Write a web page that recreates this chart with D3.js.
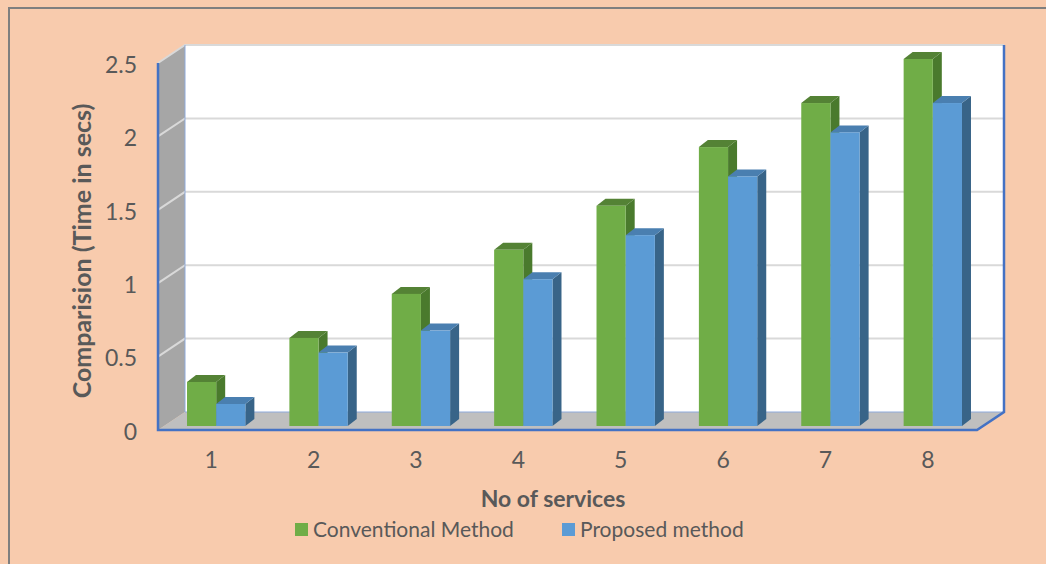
<!DOCTYPE html>
<html>
<head>
<meta charset="utf-8">
<script src="https://cdn.jsdelivr.net/npm/d3@7"></script>
<style>
  body { margin: 0; background: #fff; }
  svg text { font-family: Lato, "Open Sans", sans-serif; fill: #595959; }
</style>
</head>
<body>
<div id="chart"></div>
<script>
// data
const services = ['1', '2', '3', '4', '5', '6', '7', '8'];
const seriesNames = ['Conventional Method', 'Proposed method'];
const conventional = [0.3, 0.6, 0.9, 1.2, 1.5, 1.9, 2.2, 2.5];
const proposed = [0.15, 0.5, 0.65, 1.0, 1.3, 1.7, 2.0, 2.2];
const yTicks = [0, 0.5, 1, 1.5, 2, 2.5];

const width = 1046, height = 564;
const colors = {
  'Conventional Method': { front: '#70ad47', top: '#548235', side: '#4a7a2d' },
  'Proposed method': { front: '#5b9bd5', top: '#4a7fb0', side: '#386488' }
};

// front plane of the 3d box
const plot = { left: 158, right: 977, top: 63, bottom: 430 };
const depth = { dx: 27, dy: -18 };      // front -> back wall
const barOff = { dx: 6, dy: -4 };       // front -> bar front face
const barDepth = { dx: 9, dy: -7 };     // bar thickness

const svg = d3.select('#chart').append('svg')
  .attr('width', width).attr('height', height);

svg.append('rect').attr('width', width).attr('height', height).attr('fill', '#f8cbad');
svg.append('path').attr('d', `M9,${height}V8H${width}`)
  .attr('fill', 'none').attr('stroke', '#7f7f7f').attr('stroke-width', 2);

const xScale = d3.scaleBand().domain(services).range([plot.left, plot.right]);
const yScale = d3.scaleLinear().domain([0, 2.5]).range([plot.bottom, plot.top]);
const xInner = d3.scaleBand().domain(seriesNames)
  .range([0, xScale.bandwidth() * 0.57]);
const groupOffset = (xScale.bandwidth() - xInner.range()[1]) / 2 + 1;

const L = plot.left, R = plot.right, T = plot.top, B = plot.bottom;
const dx = depth.dx, dy = depth.dy;
const pts = a => a.map(p => p.join(',')).join(' ');

// left wall
svg.append('polygon')
  .attr('points', pts([[L, T], [L + dx, T + dy], [L + dx, B + dy], [L, B]]))
  .attr('fill', '#a6a6a6');
// back wall
svg.append('rect')
  .attr('x', L + dx).attr('y', T + dy)
  .attr('width', R - L).attr('height', B - T)
  .attr('fill', '#ffffff');

// gridlines on back and left wall
const grid = svg.append('g').attr('stroke', '#d9d9d9').attr('stroke-width', 2).attr('fill', 'none');
yTicks.filter(v => v > 0).forEach(v => {
  const y = yScale(v);
  grid.append('path')
    .attr('d', `M${L},${y}L${L + dx},${y + dy}H${R + dx}`);
});

// floor
svg.append('polygon')
  .attr('points', pts([[L, B], [L + dx, B + dy], [R + dx, B + dy], [R, B]]))
  .attr('fill', '#bfbfbf');

// thin edges of the back wall
svg.append('path')
  .attr('d', `M${L + dx},${T + dy}V${B + dy}H${R + dx}`)
  .attr('fill', 'none').attr('stroke', '#8eaadb').attr('stroke-width', 1);

// blue frame
svg.append('path')
  .attr('d', `M${L},${T}V${B}H${R}L${R + dx},${B + dy}V${T + dy}`)
  .attr('fill', 'none').attr('stroke', '#4472c4').attr('stroke-width', 2.5);

// bars
const rows = [];
services.forEach((s, i) => {
  rows.push({ cat: s, series: seriesNames[0], value: conventional[i] });
  rows.push({ cat: s, series: seriesNames[1], value: proposed[i] });
});

const barsG = svg.append('g');
rows.forEach(d => {
  const x0 = xScale(d.cat) + groupOffset + xInner(d.series) + barOff.dx;
  const x1 = x0 + xInner.bandwidth();
  const yb = yScale(0) + barOff.dy;
  const yt = yScale(d.value) + barOff.dy;
  const c = colors[d.series];
  const g = barsG.append('g');
  g.append('polygon')
    .attr('points', pts([[x1, yt], [x1 + barDepth.dx, yt + barDepth.dy], [x1 + barDepth.dx, yb + barDepth.dy], [x1, yb]]))
    .attr('fill', c.side);
  g.append('polygon')
    .attr('points', pts([[x0, yt], [x0 + barDepth.dx, yt + barDepth.dy], [x1 + barDepth.dx, yt + barDepth.dy], [x1, yt]]))
    .attr('fill', c.top);
  g.append('rect')
    .attr('x', x0).attr('y', yt)
    .attr('width', x1 - x0).attr('height', yb - yt)
    .attr('fill', c.front);
});

// axes
const yAxisG = svg.append('g')
  .attr('transform', `translate(${L - 21},2)`)
  .call(d3.axisLeft(yScale).tickValues(yTicks).tickSize(0).tickPadding(0).tickFormat(d => String(d)));
yAxisG.select('.domain').remove();
yAxisG.selectAll('text').attr('font-size', 23).style('font-family', 'Lato').attr('fill', '#595959');

const xAxisG = svg.append('g')
  .attr('transform', `translate(2,${B + 20})`)
  .call(d3.axisBottom(xScale).tickSize(0).tickPadding(0));
xAxisG.select('.domain').remove();
xAxisG.selectAll('text').attr('font-size', 23).attr('dy', '0.78em').style('font-family', 'Lato').attr('fill', '#595959');

// titles
svg.append('text')
  .attr('transform', 'translate(91,251) rotate(-90)')
  .attr('text-anchor', 'middle')
  .attr('font-size', 25).attr('font-weight', 'bold')
  .text('Comparision (Time in secs)');

svg.append('text')
  .attr('x', 553).attr('y', 507)
  .attr('text-anchor', 'middle')
  .attr('font-size', 23).attr('font-weight', 'bold')
  .text('No of services');

// legend
const legendX = [295, 562];
const legend = svg.append('g');
seriesNames.forEach((name, i) => {
  legend.append('rect')
    .attr('x', legendX[i]).attr('y', 523)
    .attr('width', 13).attr('height', 13)
    .attr('fill', colors[name].front);
  legend.append('text')
    .attr('x', legendX[i] + 18).attr('y', 537)
    .attr('font-size', 21)
    .text(name);
});
</script>
</body>
</html>
